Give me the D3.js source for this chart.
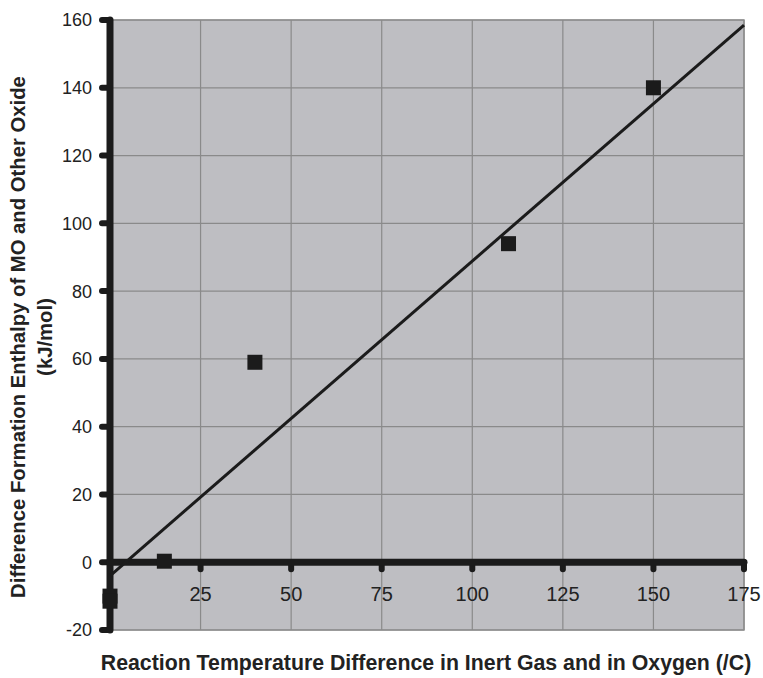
<!DOCTYPE html>
<html>
<head>
	<meta charset="utf-8">
	<script src="https://cdn.jsdelivr.net/npm/d3@7/dist/d3.min.js"></script>
	<style>
	body{
		margin: 0;
		background: #fff;
	}
	svg text{
		font-family: "Liberation Sans", Arial, sans-serif;
		fill: #222;
	}
	</style>
</head>
<body>
<svg id="chart" width="763" height="678"></svg>
<script>
// measured points
var tempDiff = [0, 0, 15, 40, 110, 150];
var enthalpyDiff = [-10, -11.5, 0.3, 59, 94, 140];

// trend line ends
var trendX = [0, 175];
var trendY = [-4, 158.5];

var xTicks = [25, 50, 75, 100, 125, 150, 175];
var yTicks = [-20, 0, 20, 40, 60, 80, 100, 120, 140, 160];

var xTitle = "Reaction Temperature Difference in Inert Gas and in Oxygen (/C)";
var yTitle = ["Difference Formation Enthalpy of MO and Other Oxide", "(kJ/mol)"];

var svg = d3.select("#chart");

var x = d3.scaleLinear().domain([0, 175]).range([110, 744]);
var y = d3.scaleLinear().domain([-20, 160]).range([630, 20]);

var dark = "#1b1b1b";

// plot background
svg.append("rect")
	.attr("x", x(0))
	.attr("y", y(160))
	.attr("width", x(175) - x(0))
	.attr("height", y(-20) - y(160))
	.attr("fill", "#bebec2")
	.attr("stroke", "#929292")
	.attr("stroke-width", 1.5);

// grid lines
svg.append("g").selectAll("line")
	.data(yTicks)
	.enter().append("line")
	.attr("x1", x(0)).attr("x2", x(175))
	.attr("y1", function(d){ return y(d); })
	.attr("y2", function(d){ return y(d); })
	.attr("stroke", "#8a8a8a")
	.attr("stroke-width", 1.2);

svg.append("g").selectAll("line")
	.data(xTicks)
	.enter().append("line")
	.attr("x1", function(d){ return x(d); })
	.attr("x2", function(d){ return x(d); })
	.attr("y1", y(160)).attr("y2", y(-20))
	.attr("stroke", "#8a8a8a")
	.attr("stroke-width", 1.2);

// y ticks (dots left of axis)
svg.append("g").selectAll("line")
	.data(yTicks)
	.enter().append("line")
	.attr("x1", x(0) - 8).attr("x2", x(0))
	.attr("y1", function(d){ return y(d); })
	.attr("y2", function(d){ return y(d); })
	.attr("stroke", dark)
	.attr("stroke-width", 6)
	.attr("stroke-linecap", "round");

// x ticks (dots below axis)
svg.append("g").selectAll("line")
	.data(xTicks)
	.enter().append("line")
	.attr("x1", function(d){ return x(d); })
	.attr("x2", function(d){ return x(d); })
	.attr("y1", y(0)).attr("y2", y(0) + 7)
	.attr("stroke", dark)
	.attr("stroke-width", 6)
	.attr("stroke-linecap", "round");

// axis lines
svg.append("line")
	.attr("x1", x(0)).attr("x2", x(0))
	.attr("y1", y(160)).attr("y2", y(-20))
	.attr("stroke", dark)
	.attr("stroke-width", 7)
	.attr("stroke-linecap", "round");

svg.append("line")
	.attr("x1", x(0)).attr("x2", x(175))
	.attr("y1", y(0)).attr("y2", y(0))
	.attr("stroke", dark)
	.attr("stroke-width", 7)
	.attr("stroke-linecap", "round");

// trend line
svg.append("line")
	.attr("x1", x(trendX[0])).attr("y1", y(trendY[0]))
	.attr("x2", x(trendX[1])).attr("y2", y(trendY[1]))
	.attr("stroke", dark)
	.attr("stroke-width", 3);

// markers
var size = 15;
svg.append("g").selectAll("rect")
	.data(tempDiff)
	.enter().append("rect")
	.attr("x", function(d){ return x(d) - size / 2; })
	.attr("y", function(d, i){ return y(enthalpyDiff[i]) - size / 2; })
	.attr("width", size)
	.attr("height", size)
	.attr("fill", dark);

// tick labels
svg.append("g").selectAll("text")
	.data(yTicks)
	.enter().append("text")
	.attr("x", 92)
	.attr("y", function(d){ return y(d); })
	.attr("dy", "0.36em")
	.attr("text-anchor", "end")
	.attr("font-size", "18px")
	.text(function(d){ return d; });

svg.append("g").selectAll("text")
	.data(xTicks)
	.enter().append("text")
	.attr("x", function(d){ return x(d); })
	.attr("y", 601)
	.attr("text-anchor", "middle")
	.attr("font-size", "20px")
	.text(function(d){ return d; });

// axis titles
svg.append("text")
	.attr("x", 426)
	.attr("y", 670)
	.attr("text-anchor", "middle")
	.attr("font-size", "21.3px")
	.attr("font-weight", "bold")
	.text(xTitle);

svg.append("g")
	.attr("transform", "translate(25,337) rotate(-90)")
	.selectAll("text")
	.data(yTitle)
	.enter().append("text")
	.attr("x", 0)
	.attr("y", function(d, i){ return i * 27; })
	.attr("text-anchor", "middle")
	.attr("font-size", "20.3px")
	.attr("font-weight", "bold")
	.text(function(d){ return d; });
</script>
</body>
</html>
